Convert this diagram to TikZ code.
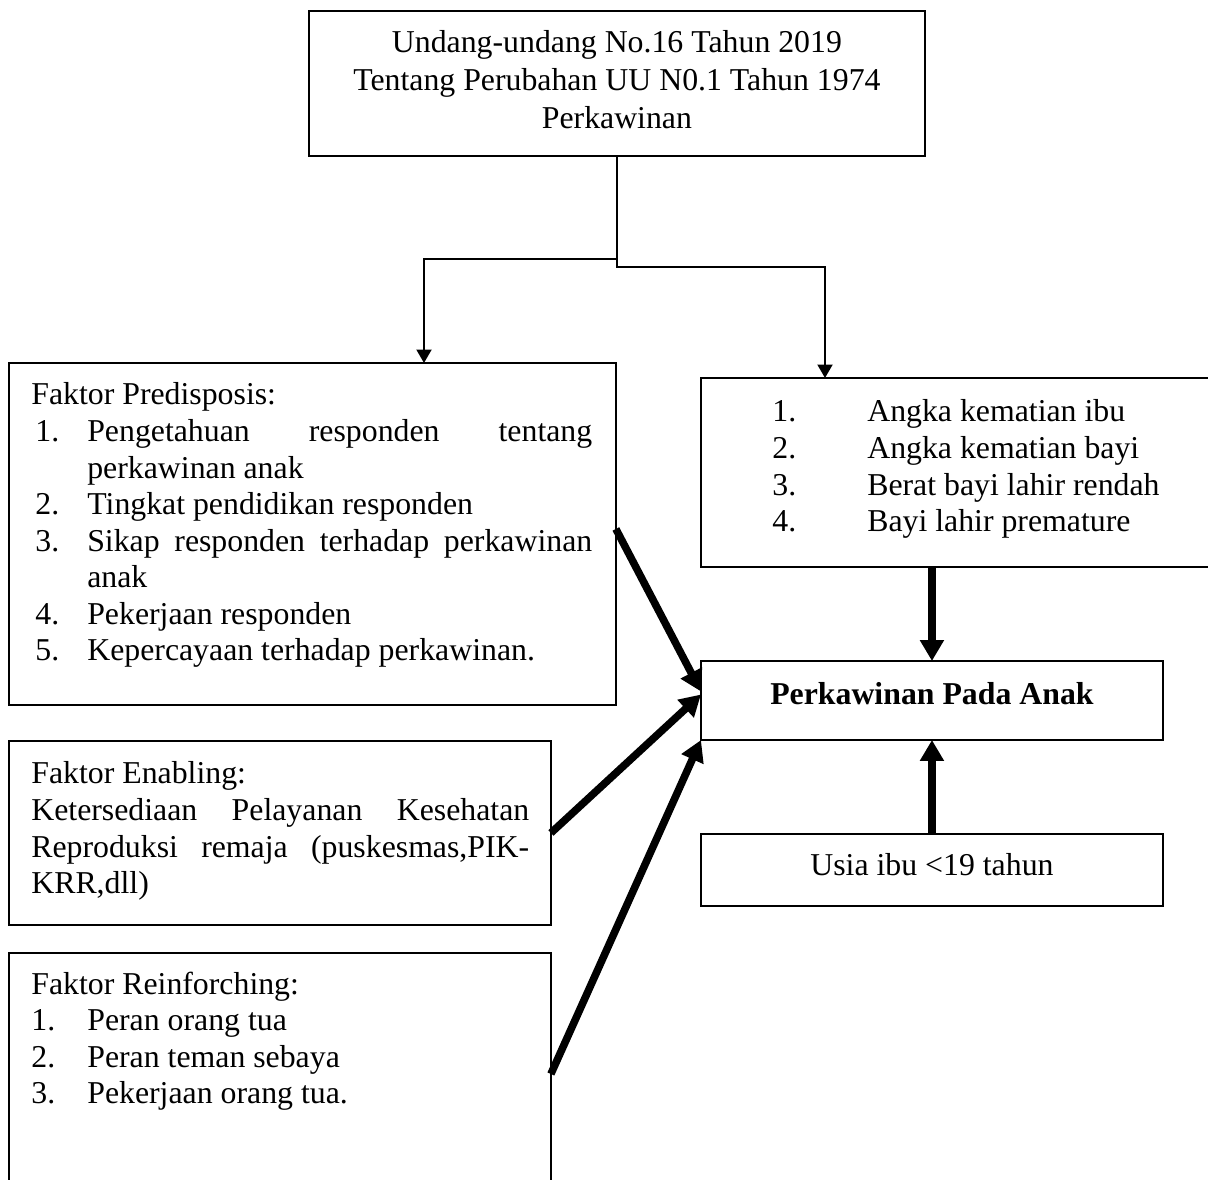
\documentclass[tikz,border=0pt]{standalone}
\usepackage{fontspec}
\setmainfont{Liberation Serif}
\usepackage{tikz}
\usetikzlibrary{arrows.meta,positioning,calc}
\setlength{\parindent}{0pt}
\tikzstyle{kotak}=[draw, line width=1.1pt, rectangle, anchor=north west, inner sep=0pt, outer sep=0pt]
\tikzstyle{teks}=[anchor=north west, inner sep=0pt, font=\fontsize{18.1}{20.8}\selectfont]
\tikzstyle{garis}=[line width=1.2pt, -{Triangle[width=0.3cm,length=0.27cm]}]
\tikzstyle{panah}=[line width=4.3pt, -{Triangle[width=0.46cm,length=0.42cm]}]
% nomor + isi butir, baris kedua menjorok
\newcommand{\butir}[3]{\hangindent=#1\hangafter=1\makebox[#1][l]{#2}#3\par}

\begin{document}
\begin{tikzpicture}[x=0.02cm, y=-0.02cm]
\useasboundingbox (0,0) rectangle (1208,1180);

% kotak
\node[kotak, minimum width=12.32cm, minimum height=2.9cm] (uu) at (309,11) {};
\node[kotak, minimum width=12.14cm, minimum height=6.84cm] (predis) at (9,363) {};
\node[kotak, minimum width=10.18cm, minimum height=3.78cm] (akibat) at (701,378) {};
\node[kotak, minimum width=9.24cm, minimum height=1.58cm] (pak) at (701,661) {};
\node[kotak, minimum width=9.24cm, minimum height=1.44cm] (usia) at (701,834) {};
\node[kotak, minimum width=10.84cm, minimum height=3.68cm] (enabling) at (9,741) {};
\node[kotak, minimum width=10.84cm, minimum height=4.84cm] (reinforcing) at (9,953) {};

% isi kotak
\node[teks, anchor=north, align=center, font=\fontsize{18.1}{21.4}\selectfont] (uuTeks) at ($(uu.north)+(0,19.5)$)
  {Undang-undang No.16 Tahun 2019\\Tentang Perubahan UU N0.1 Tahun 1974\\Perkawinan};

\node[teks, text width=11.22cm, align=justify] (predisTeks) at ($(predis.north west)+(22,19.5)$) {Faktor Predisposis:\par
  \butir{1.12cm}{\hspace*{0.08cm}1.}{Pengetahuan responden tentang\linebreak perkawinan anak}
  \butir{1.12cm}{\hspace*{0.08cm}2.}{Tingkat pendidikan responden}
  \butir{1.12cm}{\hspace*{0.08cm}3.}{Sikap responden terhadap perkawinan\linebreak anak}
  \butir{1.12cm}{\hspace*{0.08cm}4.}{Pekerjaan responden}
  \butir{1.12cm}{\hspace*{0.08cm}5.}{Kepercayaan terhadap perkawinan.}};

\node[teks, text width=8.5cm, align=justify] (akibatTeks) at ($(akibat.north west)+(71,21.5)$) {\butir{1.9cm}{1.}{Angka kematian ibu}
  \butir{1.9cm}{2.}{Angka kematian bayi}
  \butir{1.9cm}{3.}{Berat bayi lahir rendah}
  \butir{1.9cm}{4.}{Bayi lahir premature}};

\node[teks, anchor=base, font=\fontsize{18.1}{20.8}\selectfont\bfseries] (pakTeks) at ($(pak.north)+(0,43)$) {Perkawinan Pada Anak};
\node[teks, anchor=base] (usiaTeks) at ($(usia.north)+(0,41)$) {Usia ibu <19 tahun};

\node[teks, text width=9.96cm, align=justify] (enablingTeks) at ($(enabling.north west)+(22,20.5)$) {Faktor Enabling:\par
  Ketersediaan Pelayanan Kesehatan\linebreak Reproduksi remaja (puskesmas,PIK-\linebreak KRR,dll)};

\node[teks, text width=9.96cm, align=justify] (reinforcingTeks) at ($(reinforcing.north west)+(22,18.5)$) {Faktor Reinforching:\par
  \butir{1.12cm}{1.}{Peran orang tua}
  \butir{1.12cm}{2.}{Peran teman sebaya}
  \butir{1.12cm}{3.}{Pekerjaan orang tua.}};

% cabang dari UU
\coordinate (cabangKiri) at (424,259);
\coordinate (cabangKanan) at (825,267);
\draw[garis] (uu.south) |- (cabangKiri) -- (cabangKiri |- predis.north);
\draw[garis] (uu.south) |- (cabangKanan) -- (cabangKanan |- akibat.north);

% panah tebal
\draw[panah] ($(predis.east)+(0,-5)$) -- ($(pak.west)+(0,-9)$);
\draw[panah] (enabling.east) -- ($(pak.west)+(0,-6)$);
\draw[panah] (reinforcing.east) -- (pak.south west);
\draw[panah] (akibat.south -| pak.north) -- (pak.north);
\draw[panah] (usia.north) -- (pak.south);

\end{tikzpicture}
\end{document}
